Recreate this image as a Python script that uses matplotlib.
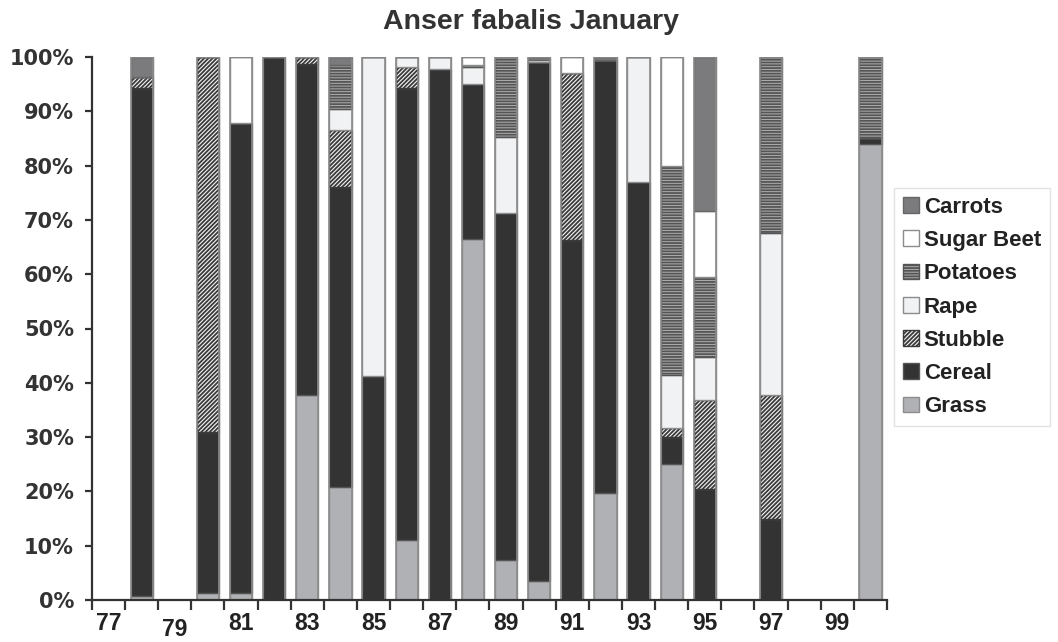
import numpy as np
import matplotlib
matplotlib.use('Agg')
import matplotlib.pyplot as plt

# years 77..00, one slot per winter
years = ['77', '78', '79', '80', '81', '82', '83', '84', '85', '86', '87', '88',
         '89', '90', '91', '92', '93', '94', '95', '96', '97', '98', '99', '00']

# percentage of each crop type per year
grass = [0, 0.7, 0, 1.2, 1.3, 0, 37.7, 20.8, 0, 11.0, 0, 66.5,
         7.4, 3.5, 0, 19.7, 0, 25.0, 0, 0, 0, 0, 0, 83.9]
cereal = [0, 93.6, 0, 29.8, 86.6, 100, 61.1, 55.2, 41.3, 83.2, 97.7, 28.5,
          63.9, 95.5, 66.3, 79.7, 76.9, 5.1, 20.4, 0, 15.0, 0, 0, 1.1]
stubble = [0, 2.1, 0, 69.0, 0, 0, 1.2, 10.5, 0, 4.0, 0, 0,
           0, 0, 30.7, 0, 0, 1.6, 16.5, 0, 22.7, 0, 0, 0]
rape = [0, 0, 0, 0, 0, 0, 0, 4.0, 58.7, 1.8, 2.3, 3.2,
        14.0, 0, 0, 0, 23.1, 9.8, 7.9, 0, 29.9, 0, 0, 0]
potatoes = [0, 0, 0, 0, 0, 0, 0, 8.1, 0, 0, 0, 0.4,
            14.7, 0, 0, 0, 0, 38.5, 14.7, 0, 32.4, 0, 0, 15.0]
sugar_beet = [0, 0, 0, 0, 12.1, 0, 0, 0, 0, 0, 0, 1.4,
              0, 0.4, 3.0, 0, 0, 20.0, 12.2, 0, 0, 0, 0, 0]
carrots = [0, 3.6, 0, 0, 0, 0, 0, 1.4, 0, 0, 0, 0,
           0, 0.6, 0, 0.6, 0, 0, 28.3, 0, 0, 0, 0, 0]

series = [
    ('Grass', grass, dict(facecolor='#b0b1b5', edgecolor='#8c8c8c')),
    ('Cereal', cereal, dict(facecolor='#333333', edgecolor='#555555')),
    ('Stubble', stubble, dict(facecolor='#f4f4f4', edgecolor='#3a3a3a', hatch='////////')),
    ('Rape', rape, dict(facecolor='#f1f2f4', edgecolor='#8c8c8c')),
    ('Potatoes', potatoes, dict(facecolor='#b0b0b0', edgecolor='#555555', hatch='------')),
    ('Sugar Beet', sugar_beet, dict(facecolor='white', edgecolor='#8c8c8c')),
    ('Carrots', carrots, dict(facecolor='#7b7b7d', edgecolor='#666666')),
]

plt.rcParams['hatch.linewidth'] = 1.3

fig = plt.figure(figsize=(10.58, 6.42), dpi=100)
ax = fig.add_axes([92 / 1058, 1 - 600 / 642, (887 - 92) / 1058, (600 - 57) / 642])

x = np.arange(len(years))
width = 0.67
bottom = np.zeros(len(years))
for name, vals, style in series:
    vals = np.array(vals, dtype=float)
    ax.bar(x, vals, width, bottom=bottom, label=name, linewidth=1.0, **style)
    bottom += vals

# grey outline on top of every bar
mask = bottom > 0
ax.bar(x[mask], bottom[mask], width, fill=False, edgecolor='#8c8c8c', linewidth=1.2)

ax.set_xlim(-0.5, len(years) - 0.5)
ax.set_ylim(0, 100)

ax.spines['top'].set_visible(False)
ax.spines['right'].set_visible(False)
for s in ('left', 'bottom'):
    ax.spines[s].set_color('#333333')
    ax.spines[s].set_linewidth(1.6)

ax.set_yticks(np.arange(0, 101, 10))
ax.set_yticklabels([f'{v}%' for v in range(0, 101, 10)],
                   fontsize=15, fontweight='bold', color='#333333', family='DejaVu Sans')
ax.tick_params(axis='y', direction='out', length=5, width=1.6, color='#333333', pad=8)

# tick marks on the slot boundaries, labels on every second year
ax.set_xticks(np.arange(-0.5, len(years), 1.0))
ax.set_xticklabels([])
ax.tick_params(axis='x', which='major', direction='out', length=7, width=1.6, color='#333333')
ax.set_xticks(x[::2][:12], minor=True)
ax.set_xticklabels(years[::2][:12], minor=True, fontsize=16.5, fontweight='bold',
                   color='#222222', family='Liberation Sans')
ax.tick_params(axis='x', which='minor', length=0, pad=9)
ax.xaxis.get_minor_ticks()[1].set_pad(13)

fig.text(531 / 1058, 1 - 22 / 642, 'Anser fabalis January', ha='center', va='center',
         fontsize=20.5, fontweight='bold', color='#333333', family='Liberation Sans')

handles, labels = ax.get_legend_handles_labels()
leg = fig.legend(handles[::-1], labels[::-1], loc='upper left',
                 bbox_to_anchor=(894 / 1058, 1 - 188 / 642), bbox_transform=fig.transFigure,
                 borderaxespad=0, fancybox=False, frameon=True,
                 prop={'family': 'Liberation Sans', 'weight': 'bold', 'size': 16},
                 handlelength=0.72, handleheight=0.72, handletextpad=0.22,
                 labelspacing=0.55, borderpad=0.4)
leg.get_frame().set_edgecolor('#dddddd')
leg.get_frame().set_linewidth(1.0)
for t in leg.get_texts():
    t.set_color('#222222')

fig.savefig('out.png', dpi=100)
plt.close(fig)
